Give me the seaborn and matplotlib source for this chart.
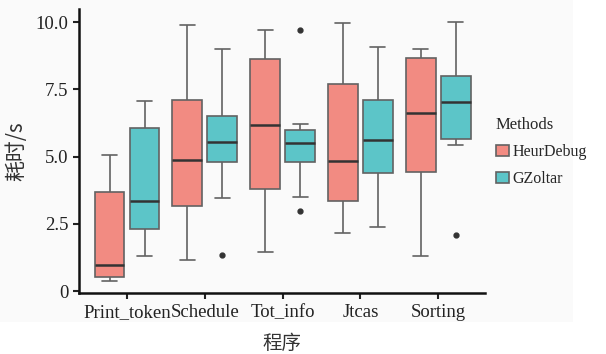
import seaborn as sns
import matplotlib.pyplot as plt
import pandas as pd
from matplotlib.patches import Rectangle

programs = ["Print_token", "Schedule", "Tot_info", "Jtcas", "Sorting"]
methods = ["HeurDebug", "GZoltar"]

# nine readings per program and method
heur_print_token = [0.39, 0.45, 0.54, 0.75, 0.98, 2.3, 3.68, 4.4, 5.05]
heur_schedule = [1.16, 2.2, 3.16, 4.0, 4.87, 6.0, 7.12, 8.5, 9.9]
heur_tot_info = [1.45, 2.6, 3.79, 5.0, 6.19, 7.4, 8.63, 9.2, 9.71]
heur_jtcas = [2.15, 2.7, 3.33, 4.1, 4.85, 6.3, 7.70, 8.8, 9.96]
heur_sorting = [1.30, 2.9, 4.42, 5.5, 6.61, 7.6, 8.66, 8.8, 8.99]

gz_print_token = [1.31, 1.8, 2.31, 2.8, 3.35, 4.7, 6.05, 6.6, 7.07]
gz_schedule = [1.34, 3.45, 4.79, 5.2, 5.55, 6.0, 6.52, 7.5, 8.99]
gz_tot_info = [2.99, 3.49, 4.79, 5.2, 5.51, 5.8, 5.97, 6.2, 9.72]
gz_jtcas = [2.40, 3.4, 4.39, 5.0, 5.63, 6.4, 7.10, 8.1, 9.09]
gz_sorting = [2.08, 5.42, 5.65, 6.5, 7.02, 7.5, 7.99, 9.0, 10.0]

heur = [heur_print_token, heur_schedule, heur_tot_info, heur_jtcas, heur_sorting]
gz = [gz_print_token, gz_schedule, gz_tot_info, gz_jtcas, gz_sorting]

rows = []
for prog, h, g in zip(programs, heur, gz):
    rows += [(prog, "HeurDebug", v) for v in h]
    rows += [(prog, "GZoltar", v) for v in g]
df = pd.DataFrame(rows, columns=["program", "Methods", "time"])

sns.set_style("ticks")
plt.rcParams['font.family'] = ['Liberation Serif', 'Noto Sans CJK SC', 'DejaVu Sans']

fig = plt.figure(figsize=(6.06, 3.54), dpi=100)
fig.patch.set_facecolor("white")
fig.patches.append(Rectangle((0, 0.09), 0.946, 0.91, transform=fig.transFigure,
                             facecolor="#fafafa", edgecolor="none", zorder=-10))
ax = fig.add_axes([0.130, 0.171, 0.670, 0.803])
ax.set_facecolor("#fafafa")

sns.boxplot(data=df, x="program", y="time", hue="Methods", order=programs,
            hue_order=methods, palette=["#f28b82", "#5cc5c8"], saturation=1,
            width=0.9, gap=0.15,
            linecolor="#626262", linewidth=1.2, fliersize=3.5,
            medianprops={"color": "#333333", "linewidth": 1.8},
            flierprops={"marker": "o", "markerfacecolor": "#333333",
                        "markeredgecolor": "#333333"},
            ax=ax)

ax.set_xlim(-0.62, 4.6)
ax.set_ylim(-0.09, 10.48)
ax.set_yticks([0, 2.5, 5.0, 7.5, 10.0], ["0", "2.5", "5.0", "7.5", "10.0"])
ax.tick_params(axis="both", labelsize=13.5, width=1.5, length=4, colors="#222222")
for s in ["left", "bottom"]:
    ax.spines[s].set_linewidth(1.8)
    ax.spines[s].set_color("#111111")
sns.despine(ax=ax)

ax.set_xlabel("程序", family=["Noto Sans CJK SC"], fontsize=14, color="#333333", labelpad=9)
ax.set_ylabel("耗时/s", family=["Noto Sans CJK SC"], fontsize=15, color="#333333", labelpad=6)

leg = ax.legend(title="Methods", loc="center left", bbox_to_anchor=(0.813, 0.57),
                bbox_transform=fig.transFigure, frameon=False, fontsize=11.5,
                title_fontsize=12, handlelength=0.8, handleheight=0.7,
                handletextpad=0.25, labelspacing=0.7, borderaxespad=0,
                borderpad=0.2)
leg._legend_box.align = "left"

fig.savefig("out.png", dpi=100)
